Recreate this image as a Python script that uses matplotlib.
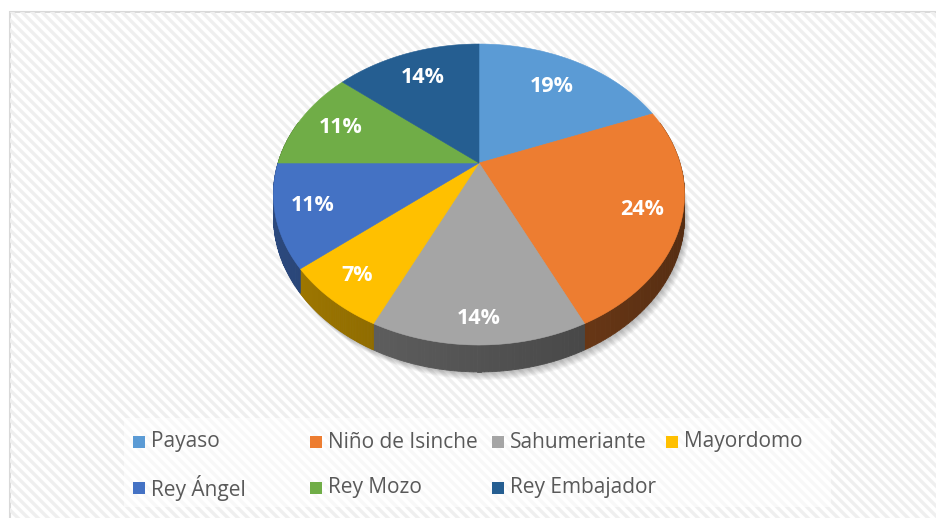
import numpy as np
import matplotlib
matplotlib.use('Agg')
import matplotlib.pyplot as plt
from matplotlib.patches import Polygon, Rectangle
from matplotlib.colors import to_rgb

# data
categories = ['Payaso', 'Niño de Isinche', 'Sahumeriante', 'Mayordomo',
              'Rey Ángel', 'Rey Mozo', 'Rey Embajador']
shares = [19, 24, 14, 7, 11, 11, 14]
colors = ['#5B9BD5', '#ED7D31', '#A5A5A5', '#FFC000', '#4472C4', '#70AD47', '#255E91']

# where each percent label sits (fraction of radius)
label_r = [0.72, 0.82, 0.88, 0.85, 0.83, 0.77, 0.75]

plt.rcParams['font.family'] = ['Open Sans', 'DejaVu Sans']

# perspective pie, in pixel coordinates
CX, CY = 479, 163      # where the slices meet
KX, KY = 201, 143.9    # half width / depth scale
B = 0.2093             # perspective strength
H = 21.3               # thickness of the pie


def proj(u, v):
    den = 1 + B * v
    return CX + KX * u / den, CY - KY * v / den


def side_bottom(u, v):
    x, y = proj(u, v)
    return x, y + H / (1 + B * v)


fig = plt.figure(figsize=(9.36, 5.18), dpi=100)
ax = fig.add_axes([0, 0, 1, 1])
ax.set_xlim(0, 936)
ax.set_ylim(518, 0)
ax.axis('off')

# chart area with diagonal stripes
area = Rectangle((9.5, 11.5), 940, 520, facecolor='white', edgecolor='#D9D9D9', lw=1.5, zorder=0)
ax.add_patch(area)
for c in range(-600, 1000, 10):
    ln, = ax.plot([c, c + 620], [0, 620], color='#EFEFEF', lw=2.4, zorder=0.5)
    ln.set_clip_path(area)

# soft shadow under the pie
t_all = np.linspace(0, 2 * np.pi, 300)
for k in range(1, 10):
    pts = [side_bottom(np.sin(t), np.cos(t)) for t in t_all]
    pts = [(x + k * 0.6, y + k * 0.9) for x, y in pts]
    ax.add_patch(Polygon(pts, closed=True, facecolor='black', edgecolor='none',
                         alpha=0.03, zorder=1))

total = sum(shares)
bounds = np.concatenate([[0], np.cumsum(shares)]) / total * 2 * np.pi

# sides first
for i, col in enumerate(colors):
    base = np.array(to_rgb(col))
    ts = np.linspace(bounds[i], bounds[i + 1], 60)
    for t0, t1 in zip(ts[:-1], ts[1:]):
        tm = (t0 + t1) / 2
        if np.cos(tm) > 0.3:
            continue
        p0 = proj(np.sin(t0), np.cos(t0))
        p1 = proj(np.sin(t1), np.cos(t1))
        q1 = side_bottom(np.sin(t1), np.cos(t1))
        q0 = side_bottom(np.sin(t0), np.cos(t0))
        shade = 0.5 - 0.15 * np.sin(tm)
        c = np.clip(base * shade, 0, 1)
        ax.add_patch(Polygon([p0, p1, q1, q0], closed=True, facecolor=c,
                             edgecolor=c, lw=0.6, zorder=2))

# top faces
for i, col in enumerate(colors):
    ts = np.linspace(bounds[i], bounds[i + 1], 120)
    pts = [proj(0, 0)] + [proj(np.sin(t), np.cos(t)) for t in ts]
    ax.add_patch(Polygon(pts, closed=True, facecolor=col, edgecolor=col, lw=0.4, zorder=3))

# percent labels
for i, s in enumerate(shares):
    tm = (bounds[i] + bounds[i + 1]) / 2
    r = label_r[i]
    x, y = proj(r * np.sin(tm), r * np.cos(tm))
    ax.text(x, y, f'{s}%', color='white', fontsize=15.5, fontweight='bold',
            ha='center', va='center', zorder=4)

# legend
ax.add_patch(Rectangle((124, 418), 707, 89, facecolor='white', edgecolor='none',
                       alpha=0.6, zorder=1))
col_x = [133, 310, 492, 666]
row_y = [442, 488]
for i, (name, col) in enumerate(zip(categories, colors)):
    x = col_x[i % 4]
    y = row_y[i // 4]
    ax.add_patch(Rectangle((x, y - 6), 12, 12, facecolor=col, edgecolor='none', zorder=4))
    ax.text(x + 18, y, name, color='#595959', fontsize=15, ha='left', va='center', zorder=4)

fig.savefig('out.png', dpi=100)
